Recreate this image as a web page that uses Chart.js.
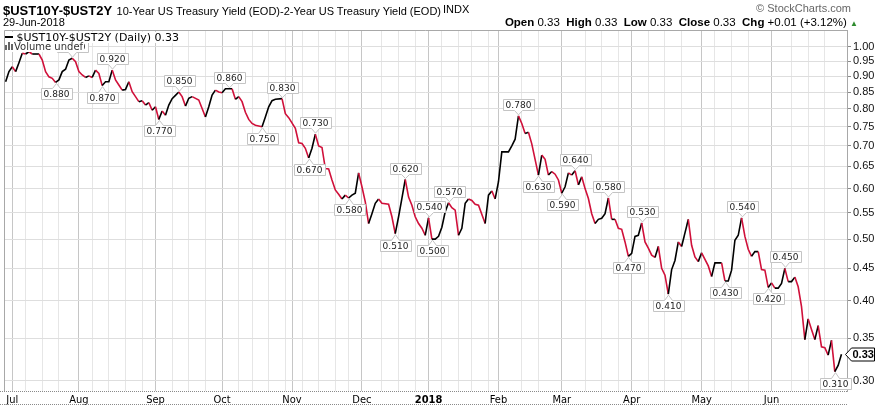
<!DOCTYPE html>
<html><head><meta charset="utf-8">
<script src="https://cdn.jsdelivr.net/npm/chart.js@4.4.0/dist/chart.umd.min.js"></script>
<style>
html,body{margin:0;padding:0;background:#fff;}
#wrap{position:relative;width:880px;height:407px;overflow:hidden;font-family:'Liberation Sans',Arial,sans-serif;}
canvas{position:absolute;left:0;top:0;}
.t{position:absolute;white-space:nowrap;color:#000;line-height:1;}
.lg{position:absolute;white-space:nowrap;font-family:'DejaVu Sans',Verdana,sans-serif;background:#fff;line-height:1;}
</style></head><body>
<div id="wrap">
<canvas id="c" width="880" height="407"></canvas>
<div class="t" style="left:3px;top:2px;"><b style="font-size:13px">$UST10Y-$UST2Y</b> <span style="font-size:11px">10-Year US Treasury Yield (EOD)-2-Year US Treasury Yield (EOD)</span></div>
<div class="t" style="left:443px;top:4px;font-size:11px">INDX</div>
<div class="t" style="left:3px;top:17px;font-size:11px">29-Jun-2018</div>
<div class="t" style="right:29px;top:3px;font-size:11px;color:#666">© StockCharts.com</div>
<div class="t" style="right:22px;top:17px;font-size:11.5px"><b>Open</b> 0.33&nbsp; <b>High</b> 0.33&nbsp; <b>Low</b> 0.33&nbsp; <b>Close</b> 0.33&nbsp; <b>Chg</b> +0.01 (+3.12%) <span style="color:#2e8b2e;font-size:8px">▲</span></div>
<div class="lg" style="left:5px;top:32px;font-size:11px;color:#000"><span style="display:inline-block;width:8px;height:2px;background:#000;vertical-align:3px"></span> $UST10Y-$UST2Y (Daily) 0.33</div>
<div class="lg" style="left:5px;top:42px;font-size:10px;color:#333;padding-right:1px"><span style="display:inline-block;width:2px;height:5px;background:#666;margin-right:1px"></span><span style="display:inline-block;width:2px;height:8px;background:#666;margin-right:1px"></span><span style="display:inline-block;width:2px;height:6px;background:#666;margin-right:1px"></span>Volume undef</div>
</div>
<script>
// ---- data (trading-day index from 3-Jul-2017 = 0) ----
const days = [-2,-1,0,1,2,3,4,5,6,8,9,10,11,12,13,14,15,16,17,18,19,20,21,22,23,24,25,26,27,28,29,30,31,32,33,34,35,36,37,38,39,40,41,42,43,44,45,46,47,48,49,50,51,52,53,54,56,57,58,59,60,61,62,63,64,65,66,67,68,69,70,71,72,73,75,76,77,78,79,81,82,83,85,86,87,88,89,90,91,92,93,94,95,96,97,98,99,100,101,102,103,104,105,106,107,108,109,110,111,113,114,115,116,117,118,119,120,121,122,123,124,125,126,127,128,129,130,131,132,133,134,135,136,137,138,139,140,142,143,144,145,146,147,149,150,151,152,153,154,155,156,158,159,160,161,162,163,164,165,166,167,168,169,170,171,172,173,174,175,176,177,178,179,180,181,182,183,184,185,186,187,188,189,190,191,192,193,194,195,196,197,198,199,200,201,203,204,205,206,207,209,210,211,213,214,215,216,217,218,219,220,221,222,223,224,225,226,227,228,229,230,231,232,233,234,235,236,237,238,239,240,241,242,243,244,245,246,247,248,249];
const values = [0.882,0.915,0.931,0.915,0.945,0.978,0.975,0.983,0.975,0.975,0.954,0.915,0.898,0.893,0.880,0.888,0.915,0.923,0.954,0.960,0.948,0.915,0.904,0.896,0.901,0.896,0.920,0.909,0.870,0.882,0.882,0.920,0.888,0.872,0.856,0.858,0.882,0.851,0.836,0.821,0.824,0.811,0.818,0.796,0.806,0.770,0.794,0.782,0.811,0.830,0.840,0.850,0.836,0.808,0.831,0.836,0.826,0.801,0.777,0.806,0.841,0.856,0.850,0.848,0.860,0.860,0.860,0.828,0.836,0.821,0.790,0.770,0.759,0.754,0.750,0.777,0.806,0.824,0.828,0.830,0.786,0.775,0.746,0.708,0.706,0.694,0.670,0.694,0.730,0.700,0.696,0.645,0.644,0.619,0.597,0.588,0.578,0.586,0.580,0.586,0.590,0.635,0.604,0.572,0.529,0.548,0.569,0.578,0.569,0.567,0.542,0.510,0.542,0.579,0.620,0.582,0.565,0.542,0.529,0.520,0.507,0.540,0.500,0.500,0.505,0.522,0.552,0.570,0.560,0.555,0.507,0.520,0.569,0.578,0.575,0.567,0.565,0.529,0.586,0.595,0.578,0.615,0.685,0.685,0.700,0.717,0.780,0.759,0.732,0.735,0.705,0.630,0.677,0.667,0.630,0.638,0.632,0.619,0.590,0.604,0.635,0.630,0.640,0.608,0.626,0.600,0.579,0.548,0.529,0.537,0.539,0.548,0.580,0.537,0.537,0.520,0.518,0.495,0.470,0.475,0.505,0.507,0.530,0.495,0.484,0.472,0.468,0.487,0.450,0.439,0.410,0.448,0.463,0.495,0.487,0.537,0.489,0.469,0.461,0.476,0.454,0.437,0.459,0.459,0.430,0.430,0.447,0.498,0.507,0.540,0.505,0.482,0.470,0.478,0.478,0.448,0.447,0.420,0.427,0.419,0.419,0.426,0.450,0.429,0.429,0.436,0.421,0.392,0.348,0.375,0.361,0.348,0.366,0.339,0.338,0.329,0.347,0.310,0.317,0.330];
const labelDays = [18,13,27,30,44,50,65,75,81,89,91,101,115,118,125,126,131,152,158,165,169,179,185,189,197,214,219,227,232,247];
const monthTicks = [0,20,43,63,84,105,125,146,165,186,207,228];
const monthLabels = ['Jul','Aug','Sep','Oct','Nov','Dec','2018','Feb','Mar','Apr','May','Jun'];
const weekTicks = [4,9,14,24,29,34,39,48,53,58,68,72,77,82,87,92,97,101,111,116,121,129,134,138,143,153,158,172,177,182,191,196,201,211,216,221,234,239,244];
const yTicks = [0.30,0.35,0.40,0.45,0.50,0.55,0.60,0.65,0.70,0.75,0.80,0.85,0.90,0.95,1.00];
const lastValue = 0.33;

const RED = '#d0103a';
const X_MIN = -2.49, X_MAX = 250.66, Y_MIN = 0.2891, Y_MAX = 1.0632;
const allXTicks = monthTicks.concat(weekTicks).sort((a,b)=>a-b);

const overlay = {
  id:'overlay',
  beforeDatasetsDraw(chart){
    const {ctx, chartArea:a} = chart;
    ctx.save();
    ctx.strokeStyle = '#a8a8a8'; ctx.lineWidth = 1;
    ctx.beginPath();
    ctx.moveTo(a.left+0.5, a.bottom); ctx.lineTo(a.left+0.5, a.top+0.5); ctx.lineTo(a.right, a.top+0.5);
    ctx.stroke();
    ctx.setLineDash([1,1]); ctx.strokeStyle = '#8a8a8a';
    ctx.beginPath();
    ctx.moveTo(0, a.bottom+0.5); ctx.lineTo(a.right, a.bottom+0.5);
    ctx.moveTo(0, 404.5); ctx.lineTo(a.right, 404.5);
    ctx.stroke();
    ctx.restore();
  },
  afterDatasetsDraw(chart){
    const {ctx} = chart;
    const xs = chart.scales.x, ys = chart.scales.y;
    ctx.save();
    ctx.font = '9px "DejaVu Sans", Verdana, sans-serif';
    ctx.textAlign = 'center'; ctx.textBaseline = 'middle';
    labelDays.forEach(d => {
      const i = days.indexOf(d);
      if (i < 0) return;
      const v = values[i];
      const prev = i > 0 ? values[i-1] : v, next = i < values.length-1 ? values[i+1] : v;
      const above = v >= Math.max(prev, next);
      const px = Math.round(xs.getPixelForValue(d)) + 0.5;
      const py = ys.getPixelForValue(v);
      const txt = v.toFixed(3);
      const w = Math.round(ctx.measureText(txt).width + 5), h = 11, gap = 6;
      const bx = Math.round(px - w/2) + 0.5;
      let by;
      ctx.beginPath();
      if (above) {
        by = Math.round(py - gap - h) + 0.5;
        ctx.moveTo(bx, by); ctx.lineTo(bx+w, by); ctx.lineTo(bx+w, by+h);
        ctx.lineTo(px+4, by+h); ctx.lineTo(px, py-1); ctx.lineTo(px-4, by+h);
        ctx.lineTo(bx, by+h); ctx.closePath();
      } else {
        by = Math.round(py + gap) + 0.5;
        ctx.moveTo(bx, by+h); ctx.lineTo(bx+w, by+h); ctx.lineTo(bx+w, by);
        ctx.lineTo(px+4, by); ctx.lineTo(px, py+1); ctx.lineTo(px-4, by);
        ctx.lineTo(bx, by); ctx.closePath();
      }
      ctx.fillStyle = '#fff'; ctx.fill();
      ctx.strokeStyle = '#c4c4c4'; ctx.lineWidth = 1; ctx.stroke();
      ctx.fillStyle = '#222';
      ctx.fillText(txt, px, by + h/2 + 0.5);
    });
    ctx.restore();
  },
  afterDraw(chart){
    const {ctx, chartArea:a} = chart;
    const py = Math.round(chart.scales.y.getPixelForValue(lastValue)) + 0.5;
    const x0 = a.right - 1.5;
    ctx.save();
    ctx.beginPath();
    ctx.moveTo(x0, py); ctx.lineTo(x0+6, py-6.5); ctx.lineTo(x0+29, py-6.5);
    ctx.lineTo(x0+29, py+6.5); ctx.lineTo(x0+6, py+6.5); ctx.closePath();
    ctx.fillStyle = '#fff'; ctx.fill();
    ctx.strokeStyle = '#000'; ctx.lineWidth = 1; ctx.stroke();
    ctx.fillStyle = '#000';
    ctx.font = 'bold 11px "Liberation Sans", Arial, sans-serif';
    ctx.textAlign = 'left'; ctx.textBaseline = 'middle';
    ctx.fillText(lastValue.toFixed(2), x0+7, py+0.5);
    ctx.restore();
  }
};

new Chart(document.getElementById('c'), {
  type: 'line',
  data: { datasets: [{
    data: days.map((d,i)=>({x:d, y:values[i]})),
    borderColor: '#000', borderWidth: 1.6, pointRadius: 0, tension: 0, fill: false,
    segment: { borderColor: c => c.p1.parsed.y < c.p0.parsed.y ? RED : '#000' }
  }]},
  options: {
    responsive: false, animation: false, devicePixelRatio: 1,
    layout: { padding: { left: 4, top: 30, right: 0, bottom: 0 } },
    plugins: { legend: { display: false }, tooltip: { enabled: false } },
    scales: {
      x: {
        type: 'linear', min: X_MIN, max: X_MAX,
        afterBuildTicks: s => { s.ticks = allXTicks.map(v => ({value: v})); },
        afterFit: s => { s.height = 16; },
        ticks: {
          autoSkip: false, maxRotation: 0, minRotation: 0, padding: 3, color: '#000',
          callback: v => { const i = monthTicks.indexOf(v); return i >= 0 ? monthLabels[i] : ''; },
          font: c => ({ family: "'Liberation Sans Narrow','DejaVu Sans Condensed','Liberation Sans',sans-serif", size: 11,
                        weight: (c.tick && c.tick.value === 125) ? 'bold' : 'normal' })
        },
        grid: { drawTicks: false, lineWidth: 1,
                color: c => (c.tick && monthTicks.includes(c.tick.value)) ? '#c6c6c6' : '#e6e6e6' },
        border: { display: false }
      },
      y: {
        type: 'logarithmic', position: 'right', min: Y_MIN, max: Y_MAX,
        afterBuildTicks: s => { s.ticks = yTicks.map(v => ({value: v})); },
        afterFit: s => { s.width = 33; },
        ticks: { autoSkip: false, padding: 2, color: '#111',
                 callback: v => Number(v).toFixed(2),
                 font: { family: "'Liberation Sans',Arial,sans-serif", size: 11 } },
        grid: { color: '#dedede', tickLength: 4, tickColor: '#8a8a8a' },
        border: { display: true, color: '#a8a8a8' }
      }
    }
  },
  plugins: [overlay]
});
</script>
</body></html>
